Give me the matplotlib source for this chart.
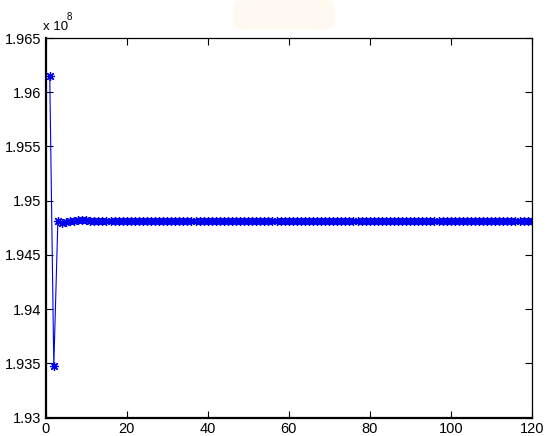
import matplotlib
matplotlib.use("Agg")
import matplotlib.pyplot as plt
from matplotlib.patches import FancyBboxPatch
from matplotlib.ticker import FuncFormatter

# iteration index and objective value
iters = list(range(1, 121))
vals = [
    1.96147e8, 1.93479e8, 1.94810e8, 1.94795e8, 1.94802e8, 1.94810e8,
    1.94816e8, 1.94822e8, 1.94822e8, 1.94818e8, 1.94814e8, 1.94810e8,
    1.94810e8, 1.94810e8, 1.94810e8, 1.94810e8, 1.94810e8, 1.94810e8,
    1.94810e8, 1.94810e8, 1.94810e8, 1.94810e8, 1.94810e8, 1.94810e8,
    1.94810e8, 1.94810e8, 1.94810e8, 1.94810e8, 1.94810e8, 1.94810e8,
    1.94810e8, 1.94810e8, 1.94810e8, 1.94810e8, 1.94810e8, 1.94810e8,
    1.94810e8, 1.94810e8, 1.94810e8, 1.94810e8, 1.94810e8, 1.94810e8,
    1.94810e8, 1.94810e8, 1.94810e8, 1.94810e8, 1.94810e8, 1.94810e8,
    1.94810e8, 1.94810e8, 1.94810e8, 1.94810e8, 1.94810e8, 1.94810e8,
    1.94810e8, 1.94810e8, 1.94810e8, 1.94810e8, 1.94810e8, 1.94810e8,
    1.94810e8, 1.94810e8, 1.94810e8, 1.94810e8, 1.94810e8, 1.94810e8,
    1.94810e8, 1.94810e8, 1.94810e8, 1.94810e8, 1.94810e8, 1.94810e8,
    1.94810e8, 1.94810e8, 1.94810e8, 1.94810e8, 1.94810e8, 1.94810e8,
    1.94810e8, 1.94810e8, 1.94810e8, 1.94810e8, 1.94810e8, 1.94810e8,
    1.94810e8, 1.94810e8, 1.94810e8, 1.94810e8, 1.94810e8, 1.94810e8,
    1.94810e8, 1.94810e8, 1.94810e8, 1.94810e8, 1.94810e8, 1.94810e8,
    1.94810e8, 1.94810e8, 1.94810e8, 1.94810e8, 1.94810e8, 1.94810e8,
    1.94810e8, 1.94810e8, 1.94810e8, 1.94810e8, 1.94810e8, 1.94810e8,
    1.94810e8, 1.94810e8, 1.94810e8, 1.94810e8, 1.94810e8, 1.94810e8,
    1.94810e8, 1.94810e8, 1.94810e8, 1.94810e8, 1.94810e8, 1.94810e8,
]

xticks = [0, 20, 40, 60, 80, 100, 120]
yticks = [1.930e8, 1.935e8, 1.940e8, 1.945e8, 1.950e8, 1.955e8, 1.960e8, 1.965e8]

plt.rcParams['font.family'] = ['Liberation Sans', 'DejaVu Sans']

fig = plt.figure(figsize=(5.52, 4.36), dpi=100)
fig.patch.set_facecolor('white')

# faint cream blob at the top of the original screenshot
fig.patches.append(FancyBboxPatch((0.422, 0.932), 0.185, 0.068,
                                  boxstyle="round,pad=0.0,rounding_size=0.02",
                                  transform=fig.transFigure, facecolor='#fff9f0',
                                  edgecolor='none', zorder=0))

ax = fig.add_axes([0.0828, 0.0420, 0.8804, 0.8708])
ax.plot(iters, vals, color='#0000ee', linewidth=0.8,
        marker=(8, 2, 0), markersize=6.5, markeredgewidth=0.9)

ax.set_xlim(0, 120)
ax.set_ylim(1.930e8, 1.965e8)
ax.set_xticks(xticks)
ax.set_yticks(yticks)
ax.yaxis.set_major_formatter(FuncFormatter(lambda v, p: '%g' % round(v / 1e8, 4)))

ax.tick_params(direction='in', length=5, width=0.8, labelsize=10.5,
               top=True, right=True, colors='black', pad=3)
ax.spines['left'].set_linewidth(1.6)
ax.spines['bottom'].set_linewidth(1.6)
ax.spines['top'].set_linewidth(0.9)
ax.spines['right'].set_linewidth(0.9)

# MATLAB style exponent label
fig.text(43 / 552, 1 - 30 / 436, 'x 10', fontsize=9.5, ha='left', va='baseline')
fig.text(67 / 552, 1 - 20 / 436, '8', fontsize=7, ha='left', va='baseline')

fig.savefig('out.png', dpi=100)
